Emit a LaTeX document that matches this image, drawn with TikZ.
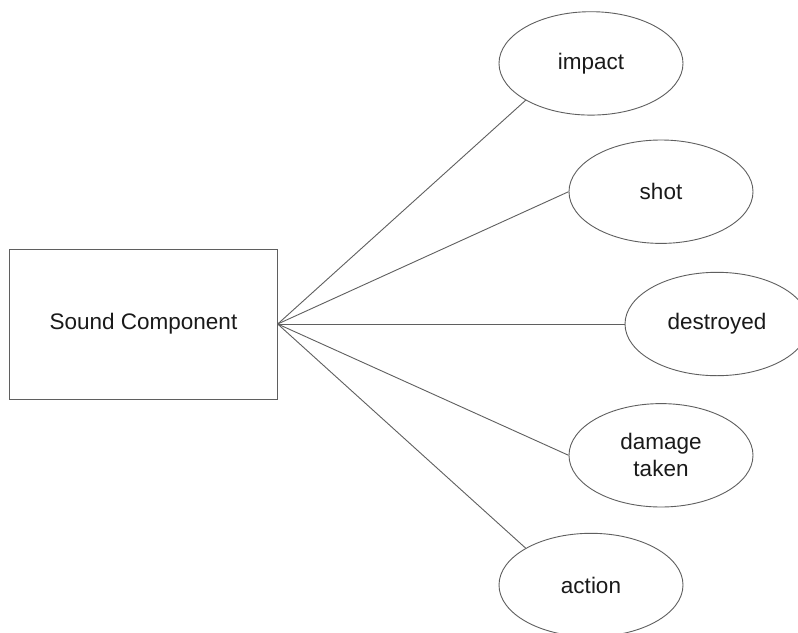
\documentclass[tikz,border=0pt]{standalone}
\usepackage{fontspec}
\setmainfont{Liberation Sans}
\usetikzlibrary{shapes.geometric}
\definecolor{edgegray}{HTML}{5F5F5F}
\definecolor{inkblack}{HTML}{1A1A1A}
\tikzset{
  compbox/.style={draw=edgegray, line width=0.9pt, minimum width=267.5pt, minimum height=150pt, inner sep=0pt, text=inkblack, font=\fontsize{22.5}{27}\selectfont},
  event/.style={ellipse, draw=edgegray, line width=0.9pt, minimum width=184pt, minimum height=103.4pt, inner sep=0pt, align=center, text=inkblack, font=\fontsize{22.5}{27}\selectfont},
  link/.style={draw=edgegray, line width=0.9pt}
}
\begin{document}
\begin{tikzpicture}[x=1pt, y=-1pt]
  \useasboundingbox (0,0) rectangle (798,632);
  \clip (0,0) rectangle (798,632);
  \fill[white] (0,0) rectangle (798,632);

  % the component and its sound events
  \node[compbox] (sound) at (143.5,324) {Sound Component};
  \node[event] (impact)    at (591,63.4)  {impact};
  \node[event] (shot)      at (661,191.7) {shot};
  \node[event] (destroyed) at (717,324)   {destroyed};
  \node[event] (damage)    at (661,455.3) {damage\\taken};
  \node[event] (action)    at (591,585)   {action};

  % connectors
  \draw[link] (sound.east) -- (impact.south west);
  \draw[link] (sound.east) -- (shot.west);
  \draw[link] (sound.east) -- (destroyed.west);
  \draw[link] (sound.east) -- (damage.west);
  \draw[link] (sound.east) -- (action.north west);
\end{tikzpicture}
\end{document}
